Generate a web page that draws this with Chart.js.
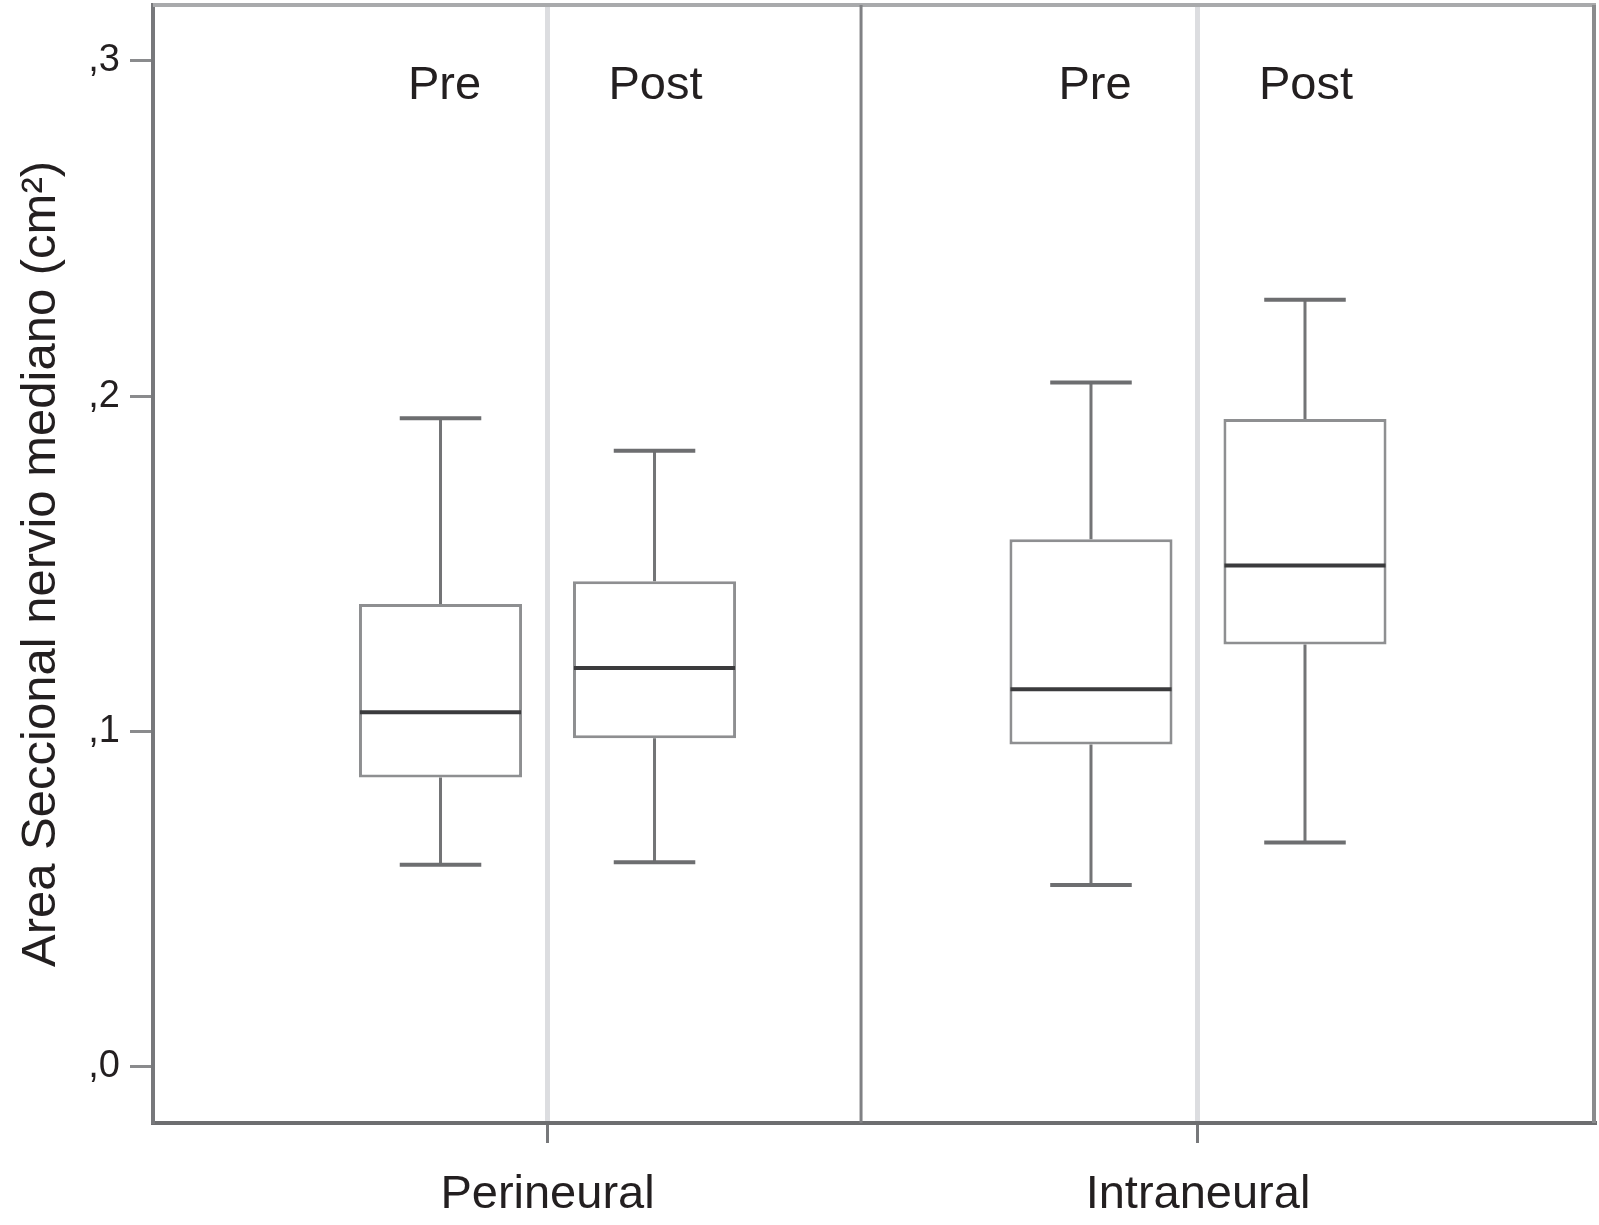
<!DOCTYPE html>
<html>
<head>
<meta charset="utf-8">
<script src="https://cdn.jsdelivr.net/npm/chart.js@4.4.1/dist/chart.umd.min.js"></script>
<style>
  html, body { margin: 0; padding: 0; background: #fff; overflow: hidden; }
  canvas { display: block; }
</style>
</head>
<body>
<canvas id="chart" width="1599" height="1225"></canvas>
<script>
// 数据
const categories = ['Perineural', 'Intraneural'];
const groups = ['Pre', 'Post'];

const preMin    = [0.0602, 0.0542];
const preQ1     = [0.0863, 0.0961];
const preMedian = [0.1057, 0.1126];
const preQ3     = [0.1380, 0.1573];
const preMax    = [0.1934, 0.2041];

const postMin    = [0.0610, 0.0669];
const postQ1     = [0.0980, 0.1259];
const postMedian = [0.1189, 0.1495];
const postQ3     = [0.1448, 0.1932];
const postMax    = [0.1837, 0.2288];

const yTicks = [0, 0.1, 0.2, 0.3];

// 坐标轴范围
const xMin = -0.6065, xMax = 1.6088, panelSplit = 0.482;
const yMin = -0.0168, yMax = 0.3167;

const FONT = '"Liberation Sans", Arial, Helvetica, sans-serif';
const TEXT = '#231f20';

const series = [
    { min: preMin, q1: preQ1, med: preMedian, q3: preQ3, max: preMax },
    { min: postMin, q1: postQ1, med: postMedian, q3: postQ3, max: postMax }
];

// 须线、中位数、边框
const boxPlot = {
    id: 'boxPlot',
    beforeDatasetsDraw(chart) {
        const { ctx, chartArea: a } = chart;
        const x = chart.scales.x;
        ctx.save();
        ctx.lineCap = 'butt';
        // 顶部
        ctx.strokeStyle = '#a9aaac';
        ctx.lineWidth = 4;
        ctx.beginPath(); ctx.moveTo(a.left, a.top); ctx.lineTo(a.right + 2, a.top); ctx.stroke();
        // 右侧
        ctx.strokeStyle = '#8a8b8d';
        ctx.beginPath(); ctx.moveTo(a.right, a.top); ctx.lineTo(a.right, a.bottom); ctx.stroke();
        // 分隔线
        const px = x.getPixelForValue(panelSplit);
        ctx.strokeStyle = '#808184';
        ctx.lineWidth = 3;
        ctx.beginPath(); ctx.moveTo(px, a.top); ctx.lineTo(px, a.bottom); ctx.stroke();
        ctx.restore();
    },
    afterDatasetsDraw(chart) {
        const { ctx, chartArea: a } = chart;
        const y = chart.scales.y;
        ctx.save();
        chart.data.datasets.forEach((ds, d) => {
            const s = series[d];
            chart.getDatasetMeta(d).data.forEach((bar, i) => {
                const cx = bar.x;
                const half = bar.width / 2;
                const yMaxPx = y.getPixelForValue(s.max[i]);
                const yQ3 = y.getPixelForValue(s.q3[i]);
                const yQ1 = y.getPixelForValue(s.q1[i]);
                const yMinPx = y.getPixelForValue(s.min[i]);
                const yMed = y.getPixelForValue(s.med[i]);

                ctx.strokeStyle = '#737476';
                ctx.lineWidth = 3;
                ctx.beginPath();
                ctx.moveTo(cx, yQ3); ctx.lineTo(cx, yMaxPx);
                ctx.moveTo(cx, yQ1); ctx.lineTo(cx, yMinPx);
                ctx.stroke();

                ctx.strokeStyle = '#6d6e70';
                ctx.lineWidth = 4;
                ctx.beginPath();
                ctx.moveTo(cx - half / 2, yMaxPx); ctx.lineTo(cx + half / 2, yMaxPx);
                ctx.moveTo(cx - half / 2, yMinPx); ctx.lineTo(cx + half / 2, yMinPx);
                ctx.stroke();

                ctx.strokeStyle = '#3b3b3d';
                ctx.lineWidth = 4;
                ctx.beginPath();
                ctx.moveTo(cx - half + 1, yMed); ctx.lineTo(cx + half - 1, yMed);
                ctx.stroke();

                // Pre / Post
                ctx.fillStyle = TEXT;
                ctx.font = '47px ' + FONT;
                ctx.textAlign = 'center';
                ctx.textBaseline = 'alphabetic';
                ctx.fillText(ds.label, cx + 4 - 3 * d, a.top + 94);
            });
        });
        ctx.restore();
    }
};

const makeData = (s) => categories.map((c, i) => ({ x: i, y: [s.q1[i], s.q3[i]] }));

new Chart(document.getElementById('chart'), {
    type: 'bar',
    data: {
        datasets: groups.map((g, d) => ({
            label: g,
            data: makeData(series[d]),
            backgroundColor: '#ffffff',
            borderColor: '#8e8f91',
            borderWidth: 3,
            borderSkipped: false,
            categoryPercentage: 0.658,
            barPercentage: 0.762
        }))
    },
    options: {
        responsive: false,
        animation: false,
        layout: { padding: { top: 5, right: 5, left: 0, bottom: 0 } },
        plugins: { legend: { display: false }, tooltip: { enabled: false } },
        scales: {
            x: {
                type: 'linear',
                min: xMin,
                max: xMax,
                offset: false,
                afterBuildTicks: (scale) => { scale.ticks = categories.map((c, i) => ({ value: i })); },
                afterFit: (scale) => {
                    scale.height = 102;
                    scale.paddingLeft = 0;
                    scale.paddingRight = 0;
                },
                grid: {
                    offset: false,
                    color: '#dcdde0',
                    lineWidth: 5,
                    tickColor: '#77787a',
                    tickWidth: 3,
                    tickLength: 20
                },
                border: { color: '#6d6e70', width: 4 },
                ticks: {
                    autoSkip: false,
                    maxRotation: 0,
                    padding: 24,
                    color: TEXT,
                    font: { family: FONT, size: 47 },
                    callback: (v) => categories[v]
                }
            },
            y: {
                min: yMin,
                max: yMax,
                afterBuildTicks: (scale) => { scale.ticks = yTicks.map(v => ({ value: v })); },
                afterFit: (scale) => {
                    scale.width = 153;
                    scale.paddingTop = 0;
                    scale.paddingBottom = 0;
                },
                grid: {
                    drawOnChartArea: false,
                    tickColor: '#8a8b8d',
                    tickWidth: 3,
                    tickLength: 23
                },
                border: { color: '#77787b', width: 4 },
                ticks: {
                    padding: 10,
                    color: TEXT,
                    font: { family: FONT, size: 38 },
                    callback: (v) => ',' + Math.round(v * 10)
                },
                title: {
                    display: true,
                    text: 'Area Seccional nervio mediano (cm²)',
                    color: TEXT,
                    font: { family: FONT, size: 49 },
                    padding: { top: 12, bottom: 0 }
                }
            }
        }
    },
    plugins: [boxPlot]
});
</script>
</body>
</html>
